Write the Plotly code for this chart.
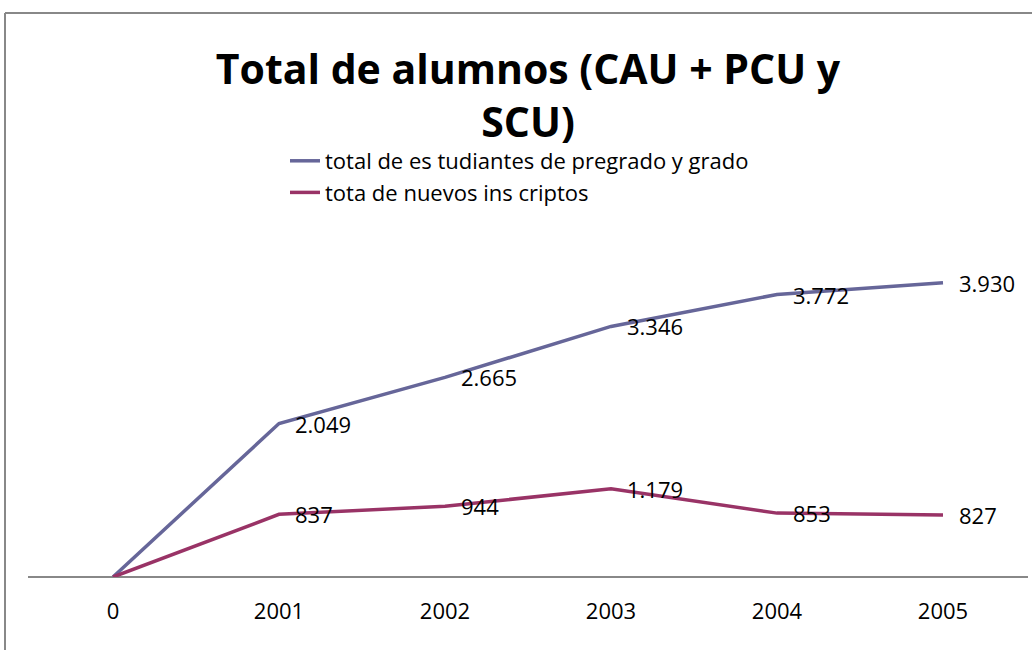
import plotly.graph_objects as go

categories = ["0", "2001", "2002", "2003", "2004", "2005"]
total_estudiantes = [0, 2049, 2665, 3346, 3772, 3930]
nuevos_inscriptos = [0, 837, 944, 1179, 853, 827]
labels_total = ["", "2.049", "2.665", "3.346", "3.772", "3.930"]
labels_nuevos = ["", "837", "944", "1.179", "853", "827"]

W, H = 1032, 650
L, R, T, B = 30, 6, 240, 73
FONT = "Open Sans"

fig = go.Figure()
fig.add_trace(go.Scatter(
    x=categories, y=total_estudiantes, mode="lines",
    name="total de es tudiantes de pregrado y grado",
    line=dict(color="#666699", width=3.5)))
fig.add_trace(go.Scatter(
    x=categories, y=nuevos_inscriptos, mode="lines",
    name="tota de nuevos ins criptos",
    line=dict(color="#993366", width=3.5)))

for ys, labs in ((total_estudiantes, labels_total), (nuevos_inscriptos, labels_nuevos)):
    for i, (v, t) in enumerate(zip(ys, labs)):
        if not t:
            continue
        fig.add_annotation(x=i, y=v, text=t, showarrow=False,
                           xanchor="left", yanchor="middle", xshift=14,
                           font=dict(family=FONT, size=22, color="#000000"))

pw = W - L - R
ph = H - T - B
bx = (5 - L) / pw
by = (H - B - 13) / ph
# outer chart frame (top and left edges visible in the window)
fig.add_shape(type="line", xref="paper", yref="paper",
              x0=bx, x1=1.05, y0=by, y1=by,
              line=dict(color="#888888", width=2))
fig.add_shape(type="line", xref="paper", yref="paper",
              x0=bx, x1=bx, y0=by, y1=-0.3,
              line=dict(color="#888888", width=2))
# category axis line
fig.add_shape(type="line", xref="paper", yref="paper",
              x0=(28 - L) / pw, x1=1.002, y0=0, y1=0,
              line=dict(color="#888888", width=2), layer="below")

fig.update_layout(
    width=W, height=H,
    margin=dict(l=L, r=R, t=T, b=B),
    paper_bgcolor="white", plot_bgcolor="white",
    title=dict(text="<b>Total de alumnos (CAU + PCU y<br>SCU)</b>",
               x=(L + pw / 2) / W, xanchor="center",
               y=1 - 84 / H, yanchor="top", yref="container",
               font=dict(family=FONT, size=41, color="#000000")),
    legend=dict(x=(285 - L) / pw, y=(H - B - 140) / ph, xanchor="left", yanchor="top",
                bgcolor="rgba(0,0,0,0)", tracegroupgap=0,
                font=dict(family=FONT, size=22, color="#000000")),
    showlegend=True,
    xaxis=dict(type="category", range=[-0.5, len(categories) - 0.5],
               showgrid=False, zeroline=False, showline=False,
               ticks="", ticklabelstandoff=19,
               tickfont=dict(family=FONT, size=22, color="#000000")),
    yaxis=dict(range=[0, 4500], showgrid=False, zeroline=False,
               showline=False, showticklabels=False, ticks=""),
)

fig.write_html("out.html", config={"displayModeBar": False},
               post_script="document.body.style.margin='0';"
                           "document.body.style.overflow='hidden';")
